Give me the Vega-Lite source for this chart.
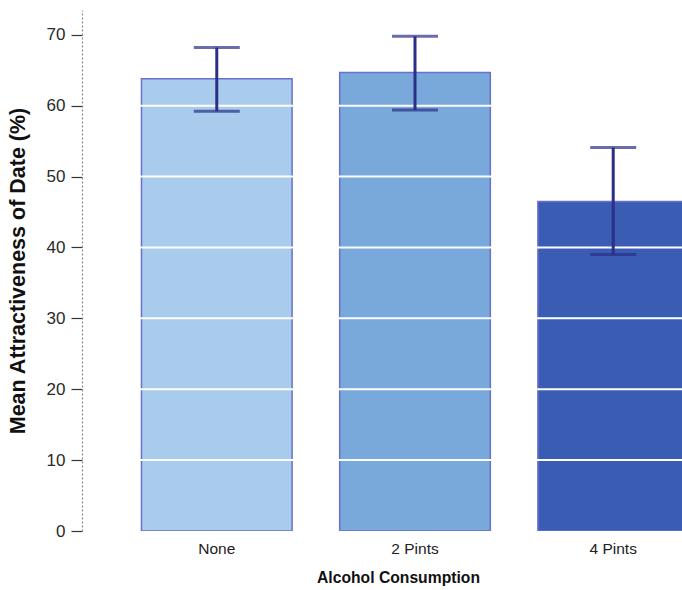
{
  "$schema": "https://vega.github.io/schema/vega-lite/v6.json",
  "autosize": {"type": "none"},
  "width": 600,
  "height": 521,
  "padding": {"left": 82, "top": 10, "right": 0, "bottom": 59},
  "background": "white",
  "config": {
    "view": {"stroke": null},
    "font": "Liberation Sans"
  },
  "datasets": {
    "bars": [
      {"group": "None", "mean": 63.8, "lo": 59.2, "hi": 68.2},
      {"group": "2 Pints", "mean": 64.7, "lo": 59.4, "hi": 69.8},
      {"group": "4 Pints", "mean": 46.5, "lo": 39.0, "hi": 54.1}
    ],
    "gridlines": [
      {"v": 10}, {"v": 20}, {"v": 30}, {"v": 40}, {"v": 50}, {"v": 60}
    ]
  },
  "layer": [
    {
      "data": {"name": "bars"},
      "mark": {"type": "bar", "clip": true, "strokeWidth": 1.5, "stroke": "#6a70cc"},
      "encoding": {
        "x": {
          "field": "group", "type": "nominal", "sort": null,
          "scale": {"range": [0, 666], "paddingInner": 0.24, "paddingOuter": 0.3},
          "axis": {
            "title": "Alcohol Consumption",
            "titleFont": "Liberation Sans", "titleFontSize": 15.7, "titleFontWeight": "bold", "titleColor": "#111",
            "titleX": 316, "titlePadding": 14,
            "labelAngle": 0, "labelFontSize": 15.5, "labelColor": "#222", "labelPadding": 10,
            "domain": false, "ticks": false
          }
        },
        "y": {
          "field": "mean", "type": "quantitative",
          "scale": {"domain": [0, 73.5], "nice": false, "zero": true},
          "axis": {
            "title": "Mean Attractiveness of Date (%)",
            "titleFont": "Liberation Sans", "titleFontSize": 21.5, "titleFontWeight": "bold", "titleColor": "#111",
            "titlePadding": 17,
            "values": [0, 10, 20, 30, 40, 50, 60, 70],
            "grid": false,
            "domainColor": "#9c867a", "domainDash": [2, 2], "domainWidth": 1.2,
            "tickColor": "#333", "tickSize": 11, "tickWidth": 1.2,
            "labelFontSize": 17, "labelColor": "#2a2a2a", "labelPadding": 6,
            "zindex": 1
          }
        },
        "color": {
          "field": "group", "type": "nominal", "sort": null,
          "scale": {"domain": ["None", "2 Pints", "4 Pints"], "range": ["#a9cbec", "#79a8db", "#3b5cb3"]},
          "legend": null
        }
      }
    },
    {
      "data": {"name": "gridlines"},
      "mark": {"type": "rule", "color": "white", "strokeWidth": 2},
      "encoding": {
        "y": {"field": "v", "type": "quantitative"}
      }
    },
    {
      "data": {"name": "bars"},
      "mark": {"type": "rule", "color": "#2b2f86", "strokeWidth": 3},
      "encoding": {
        "x": {"field": "group", "type": "nominal", "sort": null},
        "y": {"field": "lo", "type": "quantitative"},
        "y2": {"field": "hi"}
      }
    },
    {
      "data": {"name": "bars"},
      "mark": {"type": "tick", "color": "#2b2f86", "thickness": 3, "size": 46},
      "encoding": {
        "x": {"field": "group", "type": "nominal", "sort": null},
        "y": {"field": "lo", "type": "quantitative"}
      }
    },
    {
      "data": {"name": "bars"},
      "mark": {"type": "tick", "color": "#2b2f86", "thickness": 3, "size": 46},
      "encoding": {
        "x": {"field": "group", "type": "nominal", "sort": null},
        "y": {"field": "hi", "type": "quantitative"}
      }
    }
  ]
}
